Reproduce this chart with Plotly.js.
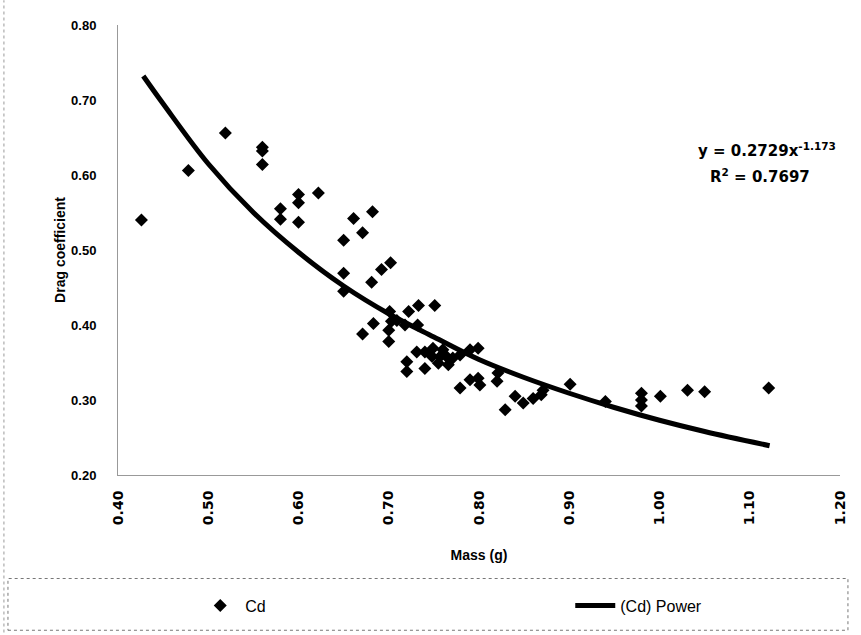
<!DOCTYPE html>
<html>
<head>
<meta charset="utf-8">
<script src="https://cdn.plot.ly/plotly-3.0.1.min.js"></script>
<style>html,body{margin:0;padding:0;background:#fff;}#chart{width:861px;height:635px;}</style>
</head>
<body>
<div id="chart"></div>
<script>
// Measured Cd points (mass in g, drag coefficient)
var massCd = [0.426,0.478,0.519,0.560,0.560,0.560,0.580,0.580,0.600,0.600,0.600,0.622,0.650,0.661,0.671,0.682,0.650,0.681,0.692,0.702,0.650,0.671,0.683,0.701,0.703,0.709,0.700,0.700,0.718,0.722,0.733,0.751,0.732,0.720,0.720,0.740,0.731,0.740,0.748,0.757,0.764,0.771,0.779,0.755,0.766,0.749,0.760,0.790,0.799,0.790,0.799,0.801,0.779,0.820,0.821,0.829,0.840,0.849,0.860,0.869,0.871,0.901,0.940,0.980,0.980,0.980,1.001,1.031,1.050,1.121];
var cdValues = [0.540,0.606,0.656,0.637,0.632,0.614,0.555,0.541,0.574,0.563,0.537,0.576,0.513,0.542,0.523,0.551,0.469,0.457,0.474,0.483,0.445,0.388,0.402,0.418,0.405,0.406,0.378,0.393,0.400,0.418,0.426,0.426,0.400,0.351,0.338,0.342,0.364,0.364,0.358,0.358,0.358,0.356,0.360,0.349,0.347,0.369,0.367,0.367,0.369,0.327,0.329,0.320,0.316,0.325,0.336,0.287,0.305,0.296,0.302,0.307,0.313,0.321,0.298,0.309,0.300,0.292,0.305,0.313,0.311,0.316];

// Power trendline
var massFit = [0.428,0.45,0.50,0.55,0.60,0.65,0.70,0.75,0.80,0.85,0.90,0.95,1.00,1.05,1.122];
var cdFit = [0.732,0.695,0.615,0.550,0.497,0.452,0.415,0.384,0.354,0.330,0.309,0.290,0.273,0.258,0.239];

var xTicks = [0.40,0.50,0.60,0.70,0.80,0.90,1.00,1.10,1.20];
var yTicks = [0.20,0.30,0.40,0.50,0.60,0.70,0.80];
var xTickText = ['0.40','0.50','0.60','0.70','0.80','0.90','1.00','1.10','1.20'];
var yTickText = ['0.20','0.30','0.40','0.50','0.60','0.70','0.80'];

var seriesNames = ['Cd', '(Cd) Power'];
var equationText = 'y = 0.2729x<sup>-1.173</sup>';
var r2Text = 'R<sup>2</sup> = 0.7697';

var fnt = 'Liberation Sans, Arial, sans-serif';
var fntWide = 'DejaVu Sans, Liberation Sans, sans-serif';

var traces = [
  {
    x: massCd, y: cdValues, type: 'scatter', mode: 'markers', name: seriesNames[0],
    marker: {symbol: 'diamond', size: 10, color: '#000'}
  },
  {
    x: massFit, y: cdFit, type: 'scatter', mode: 'lines', name: seriesNames[1],
    legendwidth: 110,
    line: {color: '#000', width: 5, shape: 'spline'}
  }
];

var layout = {
  width: 861, height: 635,
  margin: {l: 118, r: 21, t: 25, b: 160},
  paper_bgcolor: '#fff', plot_bgcolor: '#fff',
  showlegend: true,
  xaxis: {
    range: [0.40, 1.20], tickvals: xTicks, ticktext: xTickText, tickangle: -90,
    showgrid: false, zeroline: false, showline: true, linecolor: '#999', linewidth: 1,
    ticks: '', ticklabelstandoff: 9,
    tickfont: {family: fntWide, size: 14, color: '#000', weight: 'bold'},
    title: {text: 'Mass (g)', font: {family: fnt, size: 14, color: '#000', weight: 'bold'}, standoff: 26}
  },
  yaxis: {
    range: [0.20, 0.80], tickvals: yTicks, ticktext: yTickText,
    showgrid: false, zeroline: false, showline: true, linecolor: '#999', linewidth: 1,
    ticks: '', ticklabelstandoff: 18,
    tickfont: {family: fnt, size: 13, color: '#000', weight: 'bold'},
    title: {text: 'Drag coefficient', font: {family: fnt, size: 14, color: '#000', weight: 'bold'}, standoff: 2}
  },
  legend: {
    orientation: 'h', x: 0.107, xanchor: 'left', y: -0.29, yanchor: 'middle',
    bgcolor: 'rgba(0,0,0,0)', borderwidth: 0,
    entrywidth: 320, entrywidthmode: 'pixels', itemwidth: 40,
    font: {family: fnt, size: 16, color: '#000'}
  },
  shapes: [
    {type: 'rect', xref: 'paper', yref: 'paper', x0: -0.1524, x1: 1.011, y0: -0.345, y1: -0.23,
     line: {color: '#777', width: 1, dash: 'dot'}},
    {type: 'line', xref: 'paper', yref: 'paper', x0: -0.158, x1: -0.158, y0: -0.35, y1: 1.055,
     line: {color: '#999', width: 1, dash: 'dot'}}
  ],
  annotations: [
    {xref: 'paper', yref: 'paper', x: 0.997, xanchor: 'right', y: 0.75, text: equationText, showarrow: false,
     font: {family: fntWide, size: 15, color: '#000', weight: 'bold'}},
    {xref: 'paper', yref: 'paper', x: 0.961, xanchor: 'right', y: 0.665, text: r2Text, showarrow: false,
     font: {family: fntWide, size: 15, color: '#000', weight: 'bold'}}
  ]
};

Plotly.newPlot('chart', traces, layout, {displayModeBar: false, staticPlot: true});
</script>
</body>
</html>
